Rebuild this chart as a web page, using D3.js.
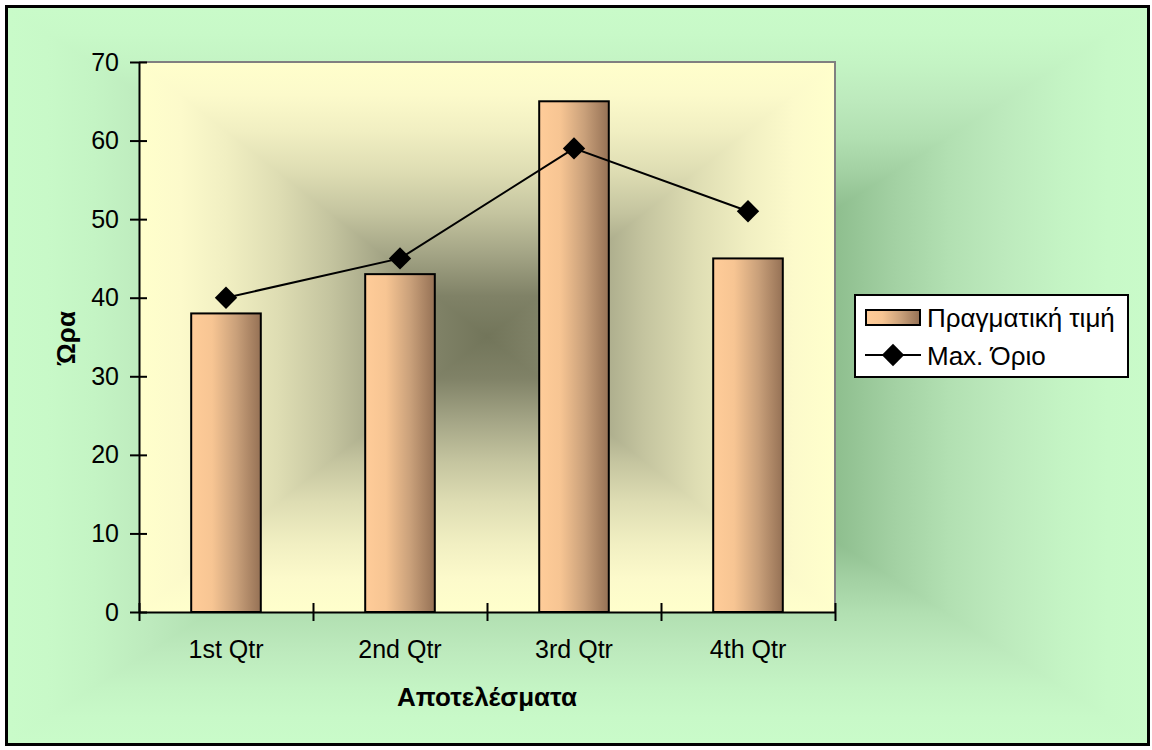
<!DOCTYPE html>
<html>
<head>
<meta charset="utf-8">
<script src="https://cdn.jsdelivr.net/npm/d3@7"></script>
<style>
  html, body { margin: 0; padding: 0; background: #ffffff; }
  svg { display: block; }
  text { font-family: "Liberation Sans", Arial, sans-serif; fill: #000; }
</style>
</head>
<body>
<svg id="chart" width="1152" height="750"></svg>
<script>
// Quarterly results: actual hours against the maximum limit
const categories = ["1st Qtr", "2nd Qtr", "3rd Qtr", "4th Qtr"];
const actualValues = [38, 43, 65, 45];      // Πραγματική τιμή (bars)
const maxLimitValues = [40, 45, 59, 51];    // Max. Όριο (line)
const yTicks = [0, 10, 20, 30, 40, 50, 60, 70];
const seriesNames = ["Πραγματική τιμή", "Max. Όριο"];
const xTitle = "Αποτελέσματα";
const yTitle = "Ώρα";

const svg = d3.select("#chart");
const defs = svg.append("defs");

// Rectangular "from centre" shading: a mirrored vertical gradient over the
// whole box, with left/right triangles carrying the horizontal gradient.
function centreShade(id, x0, y0, x1, y1, stops) {
  const cx = (x0 + x1) / 2, cy = (y0 + y1) / 2;
  const mirrored = [];
  stops.slice().reverse().forEach(s => mirrored.push([(1 - s[0]) / 2, s[1]]));
  stops.forEach(s => mirrored.push([(1 + s[0]) / 2, s[1]]));

  const v = defs.append("linearGradient").attr("id", id + "-v")
    .attr("gradientUnits", "userSpaceOnUse")
    .attr("x1", 0).attr("y1", y0).attr("x2", 0).attr("y2", y1);
  const h = defs.append("linearGradient").attr("id", id + "-h")
    .attr("gradientUnits", "userSpaceOnUse")
    .attr("x1", x0).attr("y1", 0).attr("x2", x1).attr("y2", 0);
  [v, h].forEach(g => mirrored.forEach(s =>
    g.append("stop").attr("offset", s[0]).attr("stop-color", s[1])));

  const g = svg.append("g");
  g.append("rect").attr("x", x0).attr("y", y0)
    .attr("width", x1 - x0).attr("height", y1 - y0)
    .attr("fill", `url(#${id}-v)`);
  g.append("path")
    .attr("d", `M${x0},${y0}L${cx},${cy}L${x0},${y1}Z M${x1},${y0}L${cx},${cy}L${x1},${y1}Z`)
    .attr("fill", `url(#${id}-h)`);
  return g;
}

// Chart-area background (green)
const outer = { x0: 8, y0: 8, x1: 1148, y1: 743 };
centreShade("bgShade", outer.x0, outer.y0, outer.x1, outer.y1, [
  [0.00, "#5f8f5f"],
  [0.30, "#7aa87a"],
  [0.45, "#8ebe8e"],
  [0.55, "#a2d0a2"],
  [0.65, "#b2e0b2"],
  [0.75, "#bdeabd"],
  [0.85, "#c4f4c4"],
  [0.93, "#c8f9c8"],
  [1.00, "#c9fbc9"]
]);

// Plot area
const plot = { left: 139, right: 835, top: 62, bottom: 612 };
centreShade("plotShade", plot.left, plot.top, plot.right, plot.bottom, [
  [0.00, "#72755a"],
  [0.15, "#808267"],
  [0.30, "#a3a485"],
  [0.45, "#c4c49f"],
  [0.60, "#deddb3"],
  [0.75, "#f1efc2"],
  [0.88, "#fcfacb"],
  [1.00, "#ffffcc"]
]);

// Scales
const x = d3.scaleBand()
  .domain(categories)
  .range([plot.left, plot.right])
  .paddingInner(0.6)
  .paddingOuter(0.3);
const xEdge = d3.scaleLinear().domain([0, categories.length]).range([plot.left, plot.right]);
const y = d3.scaleLinear().domain([0, 70]).range([plot.bottom, plot.top]);

// Plot border (top and right, grey)
svg.append("path")
  .attr("d", `M${plot.left},${plot.top}H${plot.right}V${plot.bottom}`)
  .attr("fill", "none").attr("stroke", "#808080").attr("stroke-width", 2);

// Bar fill gradient
const barGrad = defs.append("linearGradient").attr("id", "barGrad")
  .attr("x1", 0).attr("y1", 0).attr("x2", 1).attr("y2", 0);
[[0, "#ffcc99"], [0.3, "#f7c593"], [0.65, "#c9a07a"], [1, "#957155"]].forEach(s =>
  barGrad.append("stop").attr("offset", s[0]).attr("stop-color", s[1]));

// Bars
svg.append("g").selectAll("rect")
  .data(actualValues)
  .join("rect")
  .attr("x", (d, i) => x(categories[i]))
  .attr("y", d => y(d))
  .attr("width", x.bandwidth())
  .attr("height", d => y(0) - y(d))
  .attr("fill", "url(#barGrad)")
  .attr("stroke", "#000").attr("stroke-width", 2);

// Y axis with ticks crossing the axis line
const yAxis = svg.append("g")
  .attr("transform", `translate(${plot.left},0)`)
  .call(d3.axisLeft(y).tickValues(yTicks).tickSizeOuter(0).tickSizeInner(9).tickPadding(11));
yAxis.select(".domain").attr("stroke", "#000").attr("stroke-width", 2);
yAxis.selectAll(".tick line").attr("x1", 8).attr("stroke", "#000").attr("stroke-width", 2);
yAxis.selectAll(".tick text")
  .style("font-family", "'Liberation Sans', Arial, sans-serif")
  .style("font-size", "25px").attr("fill", "#000");

// X axis: ticks at category boundaries
const xAxis = svg.append("g")
  .attr("transform", `translate(0,${plot.bottom})`)
  .call(d3.axisBottom(xEdge).tickValues(d3.range(categories.length + 1))
    .tickFormat("").tickSizeOuter(0).tickSizeInner(9));
xAxis.select(".domain").attr("stroke", "#000").attr("stroke-width", 2);
xAxis.selectAll(".tick line").attr("y1", -9).attr("stroke", "#000").attr("stroke-width", 2);

// Category labels
const xLabels = svg.append("g")
  .attr("transform", `translate(0,${plot.bottom})`)
  .call(d3.axisBottom(x).tickSize(0).tickPadding(28));
xLabels.select(".domain").remove();
xLabels.selectAll(".tick text")
  .style("font-family", "'Liberation Sans', Arial, sans-serif")
  .style("font-size", "25px").attr("fill", "#000");

// Max limit line with diamond markers
const cx = c => x(c) + x.bandwidth() / 2;
svg.append("path")
  .datum(maxLimitValues)
  .attr("d", d3.line().x((d, i) => cx(categories[i])).y(d => y(d)))
  .attr("fill", "none").attr("stroke", "#000").attr("stroke-width", 2);

const diamond = d3.symbol().type(d3.symbolSquare).size(250);
svg.append("g").selectAll("path")
  .data(maxLimitValues)
  .join("path")
  .attr("d", diamond)
  .attr("transform", (d, i) => `translate(${cx(categories[i])},${y(d)}) rotate(45)`)
  .attr("fill", "#000");

// Axis titles
svg.append("text")
  .attr("x", (plot.left + plot.right) / 2).attr("y", 706)
  .attr("text-anchor", "middle")
  .style("font-size", "26px").style("font-weight", "bold")
  .text(xTitle);

svg.append("text")
  .attr("transform", `translate(75,338) rotate(-90)`)
  .attr("text-anchor", "middle")
  .style("font-size", "26px").style("font-weight", "bold")
  .text(yTitle);

// Legend
const legend = svg.append("g");
legend.append("rect")
  .attr("x", 855).attr("y", 295).attr("width", 273).attr("height", 82)
  .attr("fill", "#fff").attr("stroke", "#000").attr("stroke-width", 2);
legend.append("rect")
  .attr("x", 866).attr("y", 310).attr("width", 54).attr("height", 15)
  .attr("fill", "url(#barGrad)").attr("stroke", "#000").attr("stroke-width", 2);
legend.append("line")
  .attr("x1", 865).attr("x2", 921).attr("y1", 355).attr("y2", 355)
  .attr("stroke", "#000").attr("stroke-width", 2);
legend.append("path")
  .attr("d", diamond)
  .attr("transform", "translate(893,355) rotate(45)")
  .attr("fill", "#000");
legend.append("text").attr("x", 927).attr("y", 327)
  .style("font-size", "26px").text(seriesNames[0]);
legend.append("text").attr("x", 927).attr("y", 365)
  .style("font-size", "26px").text(seriesNames[1]);

// Chart-area frame
svg.append("rect")
  .attr("x", 6.5).attr("y", 6.5).attr("width", 1142).attr("height", 738)
  .attr("fill", "none").attr("stroke", "#000").attr("stroke-width", 3);
</script>
</body>
</html>
